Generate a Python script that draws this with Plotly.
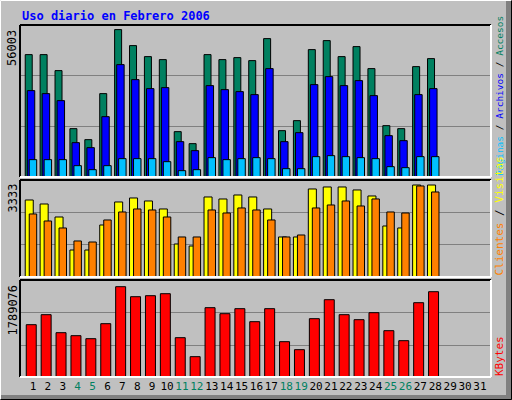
import plotly.graph_objects as go

days = list(range(1, 29))
all_days = list(range(1, 32))
weekend_days = [4, 5, 11, 12, 18, 19, 25, 26]

hits = [46500, 46500, 40420, 18370, 14190, 31680, 56003, 49920, 45740, 44600, 17230, 12670, 46500, 44600,
        45360, 44220, 52580, 17610, 21410, 48400, 51820, 45740, 49540, 41180, 19510, 18370, 41940, 44980]
files = [32820, 31680, 29010, 13050, 11150, 22930, 42700, 37000, 33580, 33960, 13430, 10010, 34720, 33200,
         32440, 31300, 41180, 13430, 16850, 35100, 38140, 34720, 36620, 30920, 15710, 13810, 31300, 33580]
pages = [6590, 6590, 6590, 4310, 2790, 4310, 6970, 6970, 6970, 5830, 2410, 2790, 7350, 6590,
         6970, 7350, 6970, 3170, 3170, 7730, 8110, 7730, 7350, 6970, 3930, 3550, 7730, 7730]
visits = [2790, 2645, 2174, 978, 978, 1884, 2718, 2863, 2754, 2464, 1196, 1123, 2899, 2826,
          2971, 2899, 2464, 1450, 1450, 3189, 3261, 3261, 3153, 2935, 1848, 1776, 3333, 3333]
sites = [2283, 2029, 1776, 1305, 1268, 2066, 2356, 2464, 2428, 2174, 1450, 1450, 2428, 2319,
         2501, 2428, 2066, 1450, 1522, 2501, 2609, 2754, 2573, 2827, 2356, 2319, 3298, 3080]
kbytes = [1044640, 1240510, 887940, 829180, 770420, 1064230, 1789076, 1593080, 1612660, 1651840,
          790010, 417860, 1377620, 1260100, 1358030, 1103400, 1358030, 711660, 554970, 1162160,
          1534320, 1240510, 1142580, 1279680, 927120, 731250, 1475550, 1691010]

W, H = 512, 400
def px(x): return x / W
def py(y): return 1 - y / H

fig = go.Figure()
ln = dict(color="black", width=1)
def bar(y, color, off, wd, ax):
    fig.add_trace(go.Bar(x=days, y=y, marker=dict(color=color, line=ln), offset=off, width=wd,
                         xaxis="x", yaxis=ax, showlegend=False, hoverinfo="skip"))

bar(hits, "#008060", -0.52, 0.47, "y")
bar(files, "#0000FF", -0.38, 0.5, "y")
bar(pages, "#00C0FF", -0.25, 0.5, "y")
bar(visits, "#FFFF00", -0.52, 0.54, "y2")
bar(sites, "#FF8000", -0.25, 0.5, "y2")
bar(kbytes, "#FF0000", -0.45, 0.67, "y3")

mono = "DejaVu Sans Mono"
ticktext = [f"<span style='color:#008060'>{d}</span>" if d in weekend_days else str(d) for d in all_days]

def yax(dom, rng):
    return dict(domain=dom, range=[0, rng], dtick=rng / 3, showticklabels=False, showgrid=True,
                gridcolor="#808080", gridwidth=1, zeroline=False, showline=False, fixedrange=True)

fig.update_layout(
    width=W, height=H, margin=dict(l=0, r=0, t=0, b=0),
    paper_bgcolor="#C0C0C0", plot_bgcolor="#C0C0C0", barmode="overlay",
    font=dict(family=mono, size=11, color="black"),
    xaxis=dict(domain=[px(20), px(491)], range=[0.13, 31.74], tickvals=all_days, ticktext=ticktext,
               tickangle=0, showgrid=False, zeroline=False, ticks="", anchor="y3",
               tickfont=dict(size=11, family=mono)),
    yaxis=yax([py(177), py(25)], 57750),
    yaxis2=yax([py(277), py(180)], 3514),
    yaxis3=yax([py(378), py(280)], 1920000),
)

shapes = []
def frame(x0, y0, x1, y1, tl, br, w=1):
    shapes.append(dict(type="line", xref="paper", yref="paper", x0=px(x0), y0=py(y0), x1=px(x1), y1=py(y0), line=dict(color=tl, width=w)))
    shapes.append(dict(type="line", xref="paper", yref="paper", x0=px(x0), y0=py(y0), x1=px(x0), y1=py(y1), line=dict(color=tl, width=w)))
    shapes.append(dict(type="line", xref="paper", yref="paper", x0=px(x1), y0=py(y0), x1=px(x1), y1=py(y1), line=dict(color=br, width=w)))
    shapes.append(dict(type="line", xref="paper", yref="paper", x0=px(x0), y0=py(y1), x1=px(x1), y1=py(y1), line=dict(color=br, width=w)))

frame(20, 25, 491, 177, "black", "white", 2)
frame(20, 180, 491, 277, "black", "white", 2)
frame(20, 280, 491, 377, "black", "white", 2)
shapes.append(dict(type="rect", xref="paper", yref="paper", x0=px(506), y0=0, x1=1, y1=1, fillcolor="#808080", line=dict(width=0), layer="below"))
shapes.append(dict(type="rect", xref="paper", yref="paper", x0=0, y0=0, x1=1, y1=py(395), fillcolor="#808080", line=dict(width=0), layer="below"))
frame(0.5, 0.5, 511.5, 399.5, "white", "black", 1)
fig.update_layout(shapes=shapes)

ann = []
ann.append(dict(text="<b>Uso diario en Febrero 2006</b>", x=px(20), y=py(7), xanchor="left", yanchor="top",
                font=dict(color="#0000FF", size=12, family=mono)))
for lab, ytop in [("56003", 28), ("3333", 182), ("1789076", 283)]:
    ann.append(dict(text=lab, x=px(12), y=py(ytop), textangle=-90, xanchor="center", yanchor="top",
                    font=dict(size=12, family=mono)))
right = [
    ("<span style='color:#00C0FF'>Páginas</span> / <span style='color:#0000FF'>Archivos</span> / <span style='color:#008060'>Accesos</span>", 178, 9.5),
    ("<span style='color:#FF8000'>Clientes</span> / <span style='color:#FFFF00'>Visitas</span>", 278, 11),
    ("<span style='color:#FF0000'>KBytes</span>", 378, 11),
]
for txt, ybot, fs in right:
    ann.append(dict(text=txt, x=px(499), y=py(ybot), textangle=-90, xanchor="center", yanchor="bottom",
                    font=dict(size=fs, family=mono)))
for a in ann:
    a.update(xref="paper", yref="paper", showarrow=False)
fig.update_layout(annotations=ann)

fig.write_html("out.html", config={"displayModeBar": False})
with open("out.html", encoding="utf-8") as f:
    html = f.read()
html = html.replace("<body>", "<body style=\"margin:0;overflow:hidden\">", 1)
with open("out.html", "w", encoding="utf-8") as f:
    f.write(html)
